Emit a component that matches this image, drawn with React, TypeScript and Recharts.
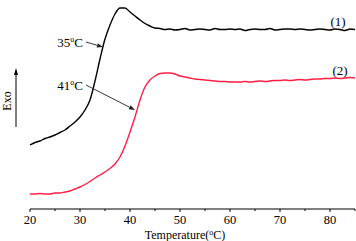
import { type ReactElement } from "react";
import { LineChart, Line, XAxis, YAxis, ReferenceLine } from "recharts";

// DSC traces, arbitrary exo-up units
const temps = [
  20, 21, 22, 23, 24, 25, 26, 27, 28, 29, 30, 31, 32, 33, 34, 35, 36, 37, 38,
  39, 40, 41, 42, 43, 44, 45, 46, 47, 48, 49, 50, 51, 52, 53, 54, 55, 56, 57,
  58, 59, 60, 61, 62, 63, 64, 65, 66, 67, 68, 69, 70, 71, 72, 73, 74, 75, 76,
  77, 78, 79, 80, 81, 82, 83, 84, 85,
];
const curve1 = [
  64, 66.5, 68, 70.5, 72, 74, 76.5, 79, 83, 87, 92, 99, 109, 128, 150, 170, 184,
  195, 201, 201, 197, 193, 189, 185.5, 183, 181, 180.5, 179.5, 180, 179, 179.5,
  180.5, 179, 179.5, 180, 179.5, 179, 180.5, 179.5, 179.5, 180, 179.5, 180,
  178.5, 179.5, 180, 179.5, 179.5, 180.5, 179, 179.5, 180, 180, 179.5, 180,
  179.5, 179, 179.5, 180, 179.5, 179, 180, 179.5, 178.5, 180, 179.5,
];
const curve2 = [
  15, 15, 15.5, 15, 15, 16, 16, 17, 18, 20, 22, 24.5, 27.5, 31, 34, 37, 40.5,
  45, 52, 63, 77, 92, 109, 122, 129, 133, 135.5, 136, 136, 135, 133, 132, 131,
  130, 129.5, 129, 128.5, 128, 127.5, 127.5, 127, 127, 127, 127.5, 127, 127.5,
  128, 127.5, 128, 128.5, 128.5, 129, 128.5, 129, 129.5, 129, 129.5, 130, 130,
  130.5, 130.5, 131, 130.5, 131, 131.5, 131,
];
const tickValues = [20, 25, 30, 35, 40, 45, 50, 55, 60, 65, 70, 75, 80, 85];

const rows = temps.map((t, i) => ({ t, a: curve1[i], b: curve2[i] }));

const FONT = "'Liberation Serif', 'DejaVu Serif', serif";

function TempTick(props: any): ReactElement {
  const { x, y, payload } = props;
  const major = payload.value % 10 === 0;
  return (
    <g>
      <line x1={x} y1={y} x2={x} y2={y + (major ? 3 : 2)} stroke="#000" strokeWidth={1} />
      {major && (
        <text x={x} y={y + 15} textAnchor="middle" fontSize={12.5} fontFamily={FONT} fill="#000">
          {payload.value}
        </text>
      )}
    </g>
  );
}

function ArrowShape(props: any): ReactElement {
  const { x1, y1, x2, y2 } = props;
  const ang = Math.atan2(y2 - y1, x2 - x1);
  const len = 6;
  const w = 2.2;
  const bx = x2 - len * Math.cos(ang);
  const by = y2 - len * Math.sin(ang);
  const px = -Math.sin(ang) * w;
  const py = Math.cos(ang) * w;
  return (
    <g>
      <line x1={x1} y1={y1} x2={bx} y2={by} stroke="#222" strokeWidth={0.9} />
      <polygon points={`${x2},${y2} ${bx + px},${by + py} ${bx - px},${by - py}`} fill="#222" />
    </g>
  );
}

export default function App(): ReactElement {
  return (
    <div style={{ position: "absolute", left: 0, top: 0, background: "#fff" }}>
      <LineChart
        width={356}
        height={241}
        data={rows}
        margin={{ top: 1, right: 1, bottom: 0, left: 30 }}
      >
        <XAxis
          dataKey="t"
          type="number"
          domain={[20, 85]}
          ticks={tickValues}
          interval={0}
          tickSize={0}
          tickMargin={0}
          tickLine={false}
          tick={<TempTick />}
          axisLine={{ stroke: "#000", strokeWidth: 1 }}
          height={32}
        />
        <YAxis
          type="number"
          domain={[0, 208]}
          tick={false}
          tickLine={false}
          width={0}
          axisLine={{ stroke: "#000", strokeWidth: 1 }}
        />
        <Line
          dataKey="a"
          stroke="#000"
          strokeWidth={1.4}
          dot={false}
          type="monotone"
          isAnimationActive={false}
        />
        <Line
          dataKey="b"
          stroke="#ff1f45"
          strokeWidth={1.4}
          dot={false}
          type="monotone"
          isAnimationActive={false}
        />
        <ReferenceLine
          segment={[{ x: 31.2, y: 167 }, { x: 34.6, y: 162 }]}
          shape={<ArrowShape />}
        />
        <ReferenceLine
          segment={[{ x: 31.2, y: 124 }, { x: 41, y: 99 }]}
          shape={<ArrowShape />}
        />
        <text x={83} y={47} textAnchor="end" fontSize={13} fontFamily={FONT} fill="#000">
          35<tspan dy={-5} fontSize={8}>o</tspan>
          <tspan dy={5}>C</tspan>
        </text>
        <text x={83} y={90} textAnchor="end" fontSize={13} fontFamily={FONT} fill="#000">
          41<tspan dy={-5} fontSize={8}>o</tspan>
          <tspan dy={5}>C</tspan>
        </text>
        <text x={338} y={26} textAnchor="middle" fontSize={13} fontFamily={FONT} fill="#000">
          (1)
        </text>
        <text x={340} y={75} textAnchor="middle" fontSize={13} fontFamily={FONT} fill="#000">
          (2)
        </text>
        <text
          x={11}
          y={101}
          transform="rotate(-90 11 101)"
          textAnchor="middle"
          fontSize={12}
          fontFamily={FONT}
          fill="#000"
        >
          Exo
        </text>
        <line x1={16} y1={127} x2={16} y2={74} stroke="#000" strokeWidth={1} />
        <polygon points="16,68 14,75 18,75" fill="#000" />
        <text x={185} y={238.5} textAnchor="middle" fontSize={12} fontFamily={FONT} fill="#000">
          Temperature(<tspan dy={-4} fontSize={8}>o</tspan>
          <tspan dy={4}>C)</tspan>
        </text>
      </LineChart>
    </div>
  );
}
